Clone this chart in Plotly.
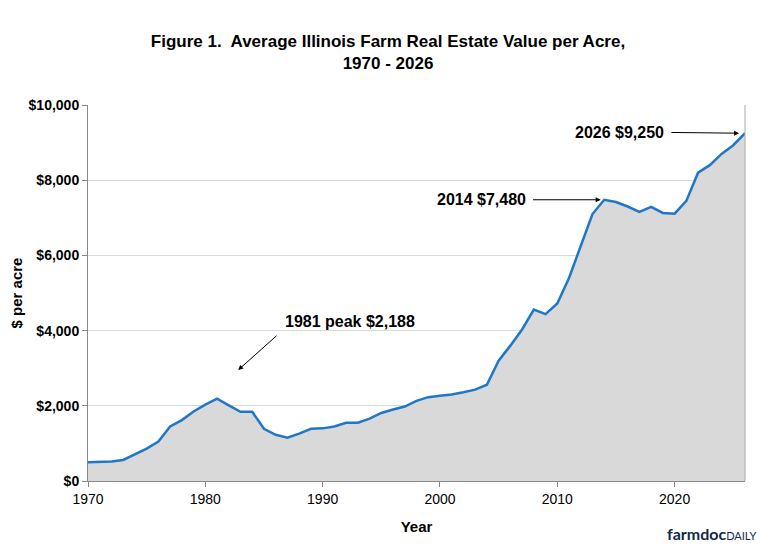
import plotly.graph_objects as go

years = list(range(1970, 2027))
values = [500,500,520,560,720,860,1050,1450,1620,1850,2030,2188,2010,1840,1840,1390,1230,1150,1260,1390,
          1400,1450,1550,1550,1660,1810,1900,1980,2130,2230,2270,2300,2360,2430,2560,3200,3600,4030,4560,4440,
          4720,5400,6250,7100,7480,7420,7300,7160,7290,7130,7110,7450,8200,8400,8700,8930,9250]

F = "Arial, Liberation Sans, sans-serif"
fig = go.Figure(go.Scatter(x=years, y=values, mode="lines", fill="tozeroy",
                           fillcolor="#d9d9d9", line=dict(color="#1f77c8", width=2.5)))

def arrow(x, y, ax, ay):
    fig.add_annotation(x=x, y=y, ax=ax, ay=ay, xref="x", yref="y", axref="x", ayref="y",
                       text="", showarrow=True, arrowhead=2, arrowsize=1, arrowwidth=1, arrowcolor="black")

arrow(1982.8, 2950, 1986.2, 3900)
fig.add_annotation(x=1986.6, y=4230, text="<b>1981 peak $2,188</b>", showarrow=False, xanchor="left",
                   font=dict(family=F, size=16, color="black"))
arrow(2013.7, 7480, 2007.8, 7480)
fig.add_annotation(x=2007.5, y=7480, text="<b>2014 $7,480</b>", showarrow=False, xanchor="right",
                   font=dict(family=F, size=16, color="black"))
arrow(2025.5, 9250, 2019.6, 9270)
fig.add_annotation(x=2019.3, y=9270, text="<b>2026 $9,250</b>", showarrow=False, xanchor="right",
                   font=dict(family=F, size=16, color="black"))

fig.update_layout(
    width=760, height=550, paper_bgcolor="white", plot_bgcolor="white",
    margin=dict(l=80, r=23, t=97, b=77, autoexpand=False), showlegend=False,
    title=dict(text="<b>Figure 1.  Average Illinois Farm Real Estate Value per Acre,<br>1970 - 2026</b>",
               x=0.5, xanchor="center", y=0.93, yanchor="top",
               font=dict(family=F, size=17, color="black")),
    xaxis=dict(range=[1970, 2026], tickvals=[1970,1980,1990,2000,2010,2020], showgrid=False,
               ticks="outside", ticklen=5, tickcolor="#888", showline=True, linecolor="#888",
               tickfont=dict(family=F, size=14, color="black"), tickprefix="<b>", ticksuffix="</b>",
               title=dict(text="<b>Year</b>", font=dict(family=F, size=15, color="black"))),
    yaxis=dict(range=[0, 10000], dtick=2000, tickprefix="<b>$", ticksuffix="</b>", tickformat=",d", showgrid=True,
               gridcolor="#d9d9d9", ticks="outside", ticklen=5, tickcolor="#888", showline=True,
               linecolor="#888", tickfont=dict(family=F, size=14, color="black"),
               title=dict(text="<b>$ per acre</b>", font=dict(family=F, size=15, color="black"))),
    shapes=[dict(type="line", xref="paper", yref="paper", x0=1, x1=1, y0=0, y1=1,
                 line=dict(color="#aaa", width=1))],
)
fig.add_annotation(xref="paper", yref="paper", x=1.02, y=-0.14, xanchor="right", yanchor="middle",
                   text="<b>farmdoc</b><span style='font-size:11px'>DAILY</span>", showarrow=False,
                   font=dict(family="Lato, sans-serif", size=16, color="#13294b"))
fig.write_html("out.html")
